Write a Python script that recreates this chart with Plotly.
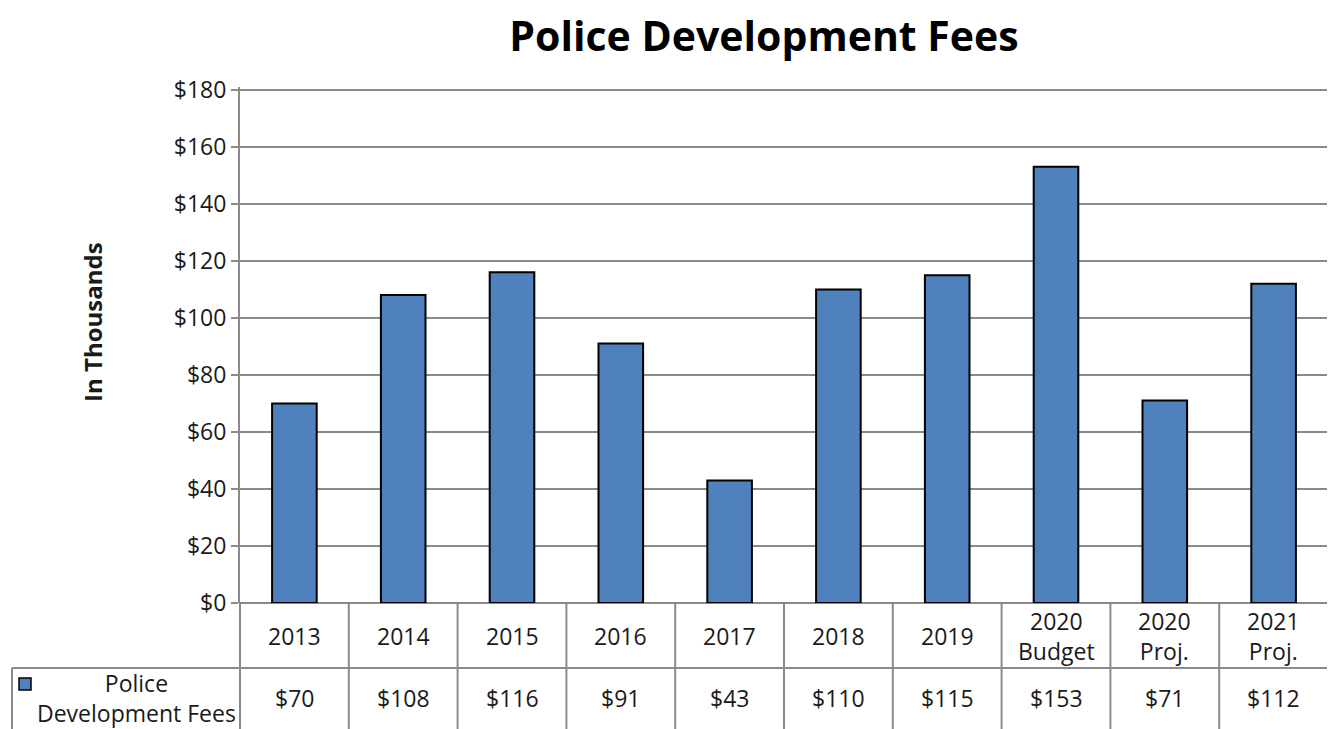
import plotly.graph_objects as go

# data
categories = ["2013", "2014", "2015", "2016", "2017", "2018", "2019",
              "2020<br>Budget", "2020<br>Proj.", "2021<br>Proj."]
fees = [70, 108, 116, 91, 43, 110, 115, 153, 71, 112]
series_name = "Police<br>Development Fees"
y_ticks = [0, 20, 40, 60, 80, 100, 120, 140, 160, 180]

FONT = "Open Sans"
GRAY = "#8a8a8a"
BLUE = "#4f81bd"
TXT = "#1a1a1a"

fig = go.Figure()
fig.add_trace(go.Bar(
    x=list(range(len(categories))), y=fees, name=series_name.replace("<br>", " "),
    marker=dict(color=BLUE, line=dict(color="black", width=2)),
    showlegend=False))

# table geometry (paper units, relative to the plot area, page has 8px body margin)
plot_w = 1088
px_per_unit = 513 / 180
plot_h = 181 * px_per_unit
y0_px = 603  # page y of the $0 line
x0_px = 240  # page x of the y axis


def py(page_y):
    return (y0_px - page_y) / plot_h


def px(page_x):
    return (page_x - x0_px) / plot_w


row1 = py(668)
row2 = py(740)
leg_left = px(12)

shapes = []
# horizontal line between category row and value row
shapes.append(dict(type="line", xref="paper", yref="paper", x0=leg_left, x1=1,
                   y0=row1, y1=row1, line=dict(color=GRAY, width=2)))
# left edge (continuation of y axis) and right edge
for xp in [0, 1]:
    shapes.append(dict(type="line", xref="paper", yref="paper", x0=xp, x1=xp,
                       y0=0, y1=row2, line=dict(color=GRAY, width=2)))
# legend cell left border
shapes.append(dict(type="line", xref="paper", yref="paper", x0=leg_left, x1=leg_left,
                   y0=row1, y1=row2, line=dict(color=GRAY, width=2)))
# inner column separators
for i in range(1, len(categories)):
    shapes.append(dict(type="line", xref="x", yref="paper", x0=i - 0.5, x1=i - 0.5,
                       y0=0, y1=row2, line=dict(color=GRAY, width=2)))
# legend key
shapes.append(dict(type="rect", xref="paper", yref="paper",
                   x0=px(19), x1=px(31), y0=py(690), y1=py(678),
                   fillcolor=BLUE, line=dict(color="black", width=1.5)))

annotations = []
for i, (cat, v) in enumerate(zip(categories, fees)):
    annotations.append(dict(x=i, y=py(636), xref="x", yref="paper", text=cat,
                            xanchor="center", yanchor="middle", showarrow=False,
                            font=dict(size=23, color=TXT, family=FONT)))
    annotations.append(dict(x=i, y=py(698), xref="x", yref="paper",
                            text=f"${v}", xanchor="center", yanchor="middle", showarrow=False,
                            font=dict(size=23, color=TXT, family=FONT)))
annotations.append(dict(x=px(136), y=py(698), xref="paper", yref="paper",
                        text=series_name, xanchor="center", yanchor="middle", showarrow=False,
                        font=dict(size=23, color=TXT, family=FONT)))
annotations.append(dict(x=px(93), y=py(322), xref="paper", yref="paper",
                        text="<b>In Thousands</b>", textangle=-90,
                        xanchor="center", yanchor="middle", showarrow=False,
                        font=dict(size=24, color=TXT, family=FONT)))

fig.update_layout(
    width=1327, height=721,
    margin=dict(l=232, r=7, t=82 - 3, b=126),
    plot_bgcolor="white", paper_bgcolor="white",
    bargap=0.59,
    font=dict(family=FONT, color=TXT),
    title=dict(text="<b>Police Development Fees</b>", x=px(764), xref="paper",
               xanchor="center", y=1 - 29 / 721, yanchor="middle",
               font=dict(size=41, family=FONT, color="black")),
    xaxis=dict(showticklabels=False, showgrid=False, ticks="",
               range=[-0.5, len(categories) - 0.5]),
    yaxis=dict(range=[0, 181], tickvals=y_ticks, ticktext=[f"${t}" for t in y_ticks],
               showgrid=True, gridcolor=GRAY, gridwidth=2,
               showline=True, linecolor=GRAY, linewidth=2,
               ticks="outside", ticklen=7, tickcolor=GRAY, tickwidth=2,
               zeroline=True, zerolinecolor=GRAY, zerolinewidth=2,
               tickfont=dict(size=23, color=TXT, family=FONT)),
    shapes=shapes,
    annotations=annotations,
)

fig.write_html("out.html")
